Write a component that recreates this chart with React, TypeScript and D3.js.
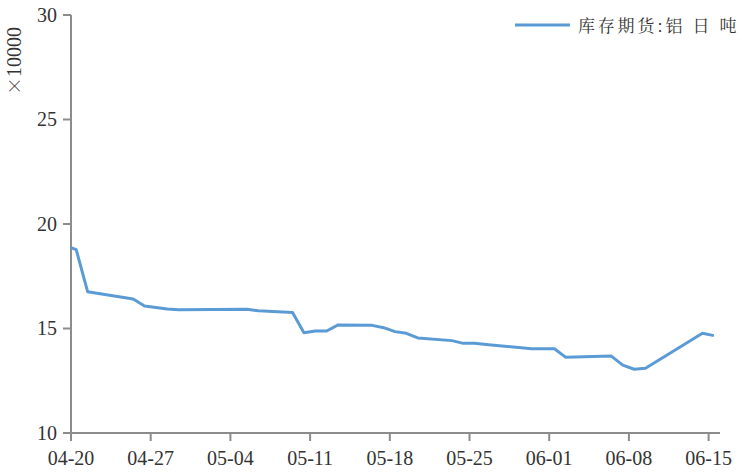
import React from "react";
import * as d3 from "d3";

const dates = [
  "2020-04-19", "2020-04-20", "2020-04-21", "2020-04-25", "2020-04-26", "2020-04-28",
  "2020-04-29", "2020-05-05", "2020-05-06", "2020-05-09", "2020-05-10", "2020-05-11",
  "2020-05-12", "2020-05-13", "2020-05-16", "2020-05-17", "2020-05-18", "2020-05-19",
  "2020-05-20", "2020-05-23", "2020-05-24", "2020-05-25", "2020-05-26", "2020-05-30",
  "2020-06-01", "2020-06-02", "2020-06-06", "2020-06-07", "2020-06-08", "2020-06-09",
  "2020-06-14", "2020-06-15",
];
const values = [
  19.0, 18.77, 16.76, 16.41, 16.08, 15.93,
  15.9, 15.92, 15.85, 15.77, 14.8, 14.88,
  14.88, 15.17, 15.15, 15.04, 14.85, 14.77,
  14.55, 14.42, 14.29, 14.29, 14.23, 14.03,
  14.03, 13.62, 13.68, 13.25, 13.05, 13.1,
  14.77, 14.66,
];
const xTickLabels = ["04-20", "04-27", "05-04", "05-11", "05-18", "05-25", "06-01", "06-08", "06-15"];
const yTicks = [10, 15, 20, 25, 30];
const seriesName = "库存期货:铝 日 吨";
const unitSign = "×";
const unitNumber = "10000";

const W = 742;
const H = 473;
const left = 71;
const right = 720;
const top = 15;
const bottom = 433;

const parse = d3.timeParse("%Y-%m-%d");
const x = d3.scaleTime().domain([parse("2020-04-20")!, parse("2020-06-16")!]).range([left, right]);
const y = d3.scaleLinear().domain([10, 30]).range([bottom, top]);

const data = dates.map((s, i) => ({ t: d3.timeHour.offset(parse(s)!, 11), v: values[i] }));
const tickDates = xTickLabels.map((l) => parse("2020-" + l)!);

const line = d3
  .line<{ t: Date; v: number }>()
  .x((d) => x(d.t))
  .y((d) => y(d.v));

const axisColor = "#8c8c8c";
const textColor = "#333333";
const lineColor = "#5B9BD5";
const serif = "Liberation Serif";
const cjk = "Noto Serif CJK SC";

export default function App() {
  return (
    <svg
      width={W}
      height={H}
      style={{ position: "absolute", left: 0, top: 0, background: "#fff" }}
    >
      <defs>
        <clipPath id="plot">
          <rect x={left} y={top - 5} width={right - left} height={bottom - top + 5} />
        </clipPath>
      </defs>
      {/* y axis */}
      <line x1={left} x2={left} y1={top} y2={bottom} stroke={axisColor} strokeWidth={2} />
      {yTicks.map((t) => (
        <g key={t}>
          <line x1={left - 8} x2={left} y1={y(t)} y2={y(t)} stroke={axisColor} strokeWidth={2} />
          <text
            x={57}
            y={y(t)}
            dy="0.33em"
            textAnchor="end"
            fontFamily={serif}
            fontSize={20}
            fill={textColor}
          >
            {t}
          </text>
        </g>
      ))}
      {/* x axis */}
      <line x1={left - 1} x2={right} y1={bottom} y2={bottom} stroke={axisColor} strokeWidth={2} />
      {tickDates.map((d, i) => (
        <g key={i}>
          <line x1={x(d)} x2={x(d)} y1={bottom} y2={bottom + 8} stroke={axisColor} strokeWidth={2} />
          <text
            x={x(d)}
            y={465}
            textAnchor="middle"
            fontFamily={serif}
            fontSize={20}
            fill={textColor}
          >
            {xTickLabels[i]}
          </text>
        </g>
      ))}
      {/* unit label */}
      <text
        transform={`translate(21,61) rotate(-90)`}
        textAnchor="middle"
        fontFamily={serif}
        fontSize={20}
        fill={textColor}
      >
        <tspan fontFamily={cjk} fontSize={18}>{unitSign}</tspan>
        <tspan>{unitNumber}</tspan>
      </text>
      {/* series */}
      <path
        d={line(data) || ""}
        fill="none"
        stroke={lineColor}
        strokeWidth={3}
        strokeLinejoin="round"
        clipPath="url(#plot)"
      />
      {/* legend */}
      <line x1={515} x2={570} y1={25} y2={25} stroke={lineColor} strokeWidth={3} />
      <text
        x={578}
        y={32}
        fontFamily={cjk}
        fontSize={17}
        letterSpacing={2.8}
        fill={textColor}
        style={{ whiteSpace: "pre" }}
      >
        {seriesName}
      </text>
    </svg>
  );
}
